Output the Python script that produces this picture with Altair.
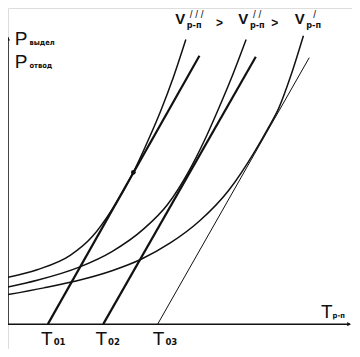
import altair as alt
import pandas as pd

# ---------------- data (arbitrary units: T = temperature, P = power) ----------------
curve_names = ["V'''", "V''", "V'"]
curveA_T = [0, 30, 64, 87, 107, 129, 144, 157, 170, 183]
curveA_P = [49, 57, 72, 92, 120, 159, 192, 223, 258, 298]
curveB_T = [0, 30, 74, 107, 140, 164, 186, 202, 216, 230, 245]
curveB_P = [39, 46, 60, 76, 100, 125, 160, 192, 224, 258, 298]
curveC_T = [0, 37, 77, 107, 137, 167, 197, 227, 254, 267, 279, 291, 304]
curveC_P = [31, 38, 47, 56, 68, 85, 108, 140, 181, 204, 227, 260, 302]

line_names = ["T01", "T02", "T03"]
line_T0 = [41, 98, 154]
line_T1 = [197, 255, 310]
line_P1 = [281, 280, 279]

tangent_T = [129]
tangent_P = [159]

T_MAX = 354
P_AXIS_TOP = 302

# ---------------- scales ----------------
W, H = 344, 341
xscale = alt.Scale(domain=[0, T_MAX], nice=False, zero=False)
yscale = alt.Scale(domain=[-26, 331], nice=False, zero=False)
FONT = "Liberation Sans, Arial, sans-serif"
NARROW = "DejaVu Sans Condensed, Liberation Sans Narrow, Arial Narrow, Liberation Sans, sans-serif"


def enc(**kw):
    return dict(
        x=alt.X("T:Q", scale=xscale, axis=None),
        y=alt.Y("P:Q", scale=yscale, axis=None),
        **kw,
    )


layers = []

# heat-release curves
curve_widths = [1.5, 1.5, 1.5]
for name, Ts, Ps, w in zip(curve_names, [curveA_T, curveB_T, curveC_T],
                           [curveA_P, curveB_P, curveC_P], curve_widths):
    df = pd.DataFrame({"T": Ts, "P": Ps, "o": range(len(Ts))})
    layers.append(
        alt.Chart(df).mark_line(interpolate="monotone", color="#111",
                                strokeWidth=w)
        .encode(**enc(order="o:Q"))
    )

# heat-removal lines
line_widths = [2.2, 2.2, 1.0]
for name, t0, t1, p1, w in zip(line_names, line_T0, line_T1, line_P1, line_widths):
    df = pd.DataFrame({"T": [t0, t1], "P": [0, p1], "o": [0, 1]})
    layers.append(
        alt.Chart(df).mark_line(color="#111", strokeWidth=w)
        .encode(**enc(order="o:Q"))
    )

# tangency point
layers.append(
    alt.Chart(pd.DataFrame({"T": tangent_T, "P": tangent_P}))
    .mark_circle(color="#111", size=22, opacity=1)
    .encode(**enc())
)

# axes
axes_df = pd.DataFrame({"T": [0, 0], "P": [0, 0], "T2": [T_MAX - 2, 0],
                        "P2": [0, P_AXIS_TOP - 2]})
layers.append(
    alt.Chart(axes_df).mark_rule(color="#111", strokeWidth=1.5)
    .encode(**enc(x2="T2:Q", y2="P2:Q"))
)
arrows_df = pd.DataFrame({"T": [T_MAX - 3, 0], "P": [0, P_AXIS_TOP - 3],
                          "s": ["triangle-right", "triangle-up"]})
layers.append(
    alt.Chart(arrows_df).mark_point(filled=True, color="#111", size=18, opacity=1)
    .encode(**enc(shape=alt.Shape("s:N", scale=None, legend=None)))
)

# ---------------- text annotations ----------------
big_labels = pd.DataFrame({
    "label": ["P", "P", "T", "T", "T", "T"],
    "T": [7, 7, 34, 90, 149, 322],
    "P": [292, 268, -22, -22, -22, 6],
})
layers.append(
    alt.Chart(big_labels).mark_text(font=FONT, fontSize=19, align="left",
                                    baseline="alphabetic", color="#111")
    .encode(**enc(text="label:N"))
)

sub_labels = pd.DataFrame({
    "label": ["выдел", "отвод", "р-п"],
    "T": [22, 22, 334],
    "P": [292, 268, 6],
})
layers.append(
    alt.Chart(sub_labels).mark_text(font=NARROW, fontSize=7.5, fontWeight="bold",
                                    align="left", baseline="alphabetic",
                                    color="#111")
    .encode(**enc(text="label:N"))
)

t0_labels = pd.DataFrame({
    "label": ["01", "02", "03"],
    "T": [47, 103, 162],
    "P": [-22, -22, -22],
})
layers.append(
    alt.Chart(t0_labels).mark_text(font=NARROW, fontSize=9.5, fontWeight="bold",
                                   align="left", baseline="alphabetic",
                                   color="#111")
    .encode(**enc(text="label:N"))
)

v_labels = pd.DataFrame({"label": ["V", "V", "V"], "T": [172, 237, 295],
                         "P": [314, 314, 314]})
layers.append(
    alt.Chart(v_labels).mark_text(font=FONT, fontSize=15, fontWeight="bold",
                                  align="left", baseline="alphabetic",
                                  color="#111")
    .encode(**enc(text="label:N"))
)

v_subs = pd.DataFrame({"label": ["р-п", "р-п", "р-п"], "T": [184, 249, 307],
                       "P": [310, 310, 310]})
layers.append(
    alt.Chart(v_subs).mark_text(font=NARROW, fontSize=9, fontWeight="bold",
                                align="left", baseline="alphabetic",
                                color="#111")
    .encode(**enc(text="label:N"))
)

v_sups = pd.DataFrame({"label": ["/ / /", "/ /", "/"], "T": [187, 252, 314],
                       "P": [321, 321, 321]})
layers.append(
    alt.Chart(v_sups).mark_text(font=FONT, fontSize=10, align="left",
                                baseline="alphabetic", color="#111")
    .encode(**enc(text="label:N"))
)

gt_labels = pd.DataFrame({"label": [">", ">"], "T": [214, 271], "P": [311, 311]})
layers.append(
    alt.Chart(gt_labels).mark_text(font=FONT, fontSize=12, fontWeight="bold",
                                   align="left", baseline="alphabetic",
                                   color="#111")
    .encode(**enc(text="label:N"))
)

chart = (
    alt.layer(*layers)
    .properties(width=W, height=H, autosize=alt.AutoSizeParams(type="none"),
                padding=0)
    .configure_view(stroke=None)
    .configure(background="white")
)

chart.save("out.html", embed_options={"renderer": "svg", "actions": False})
